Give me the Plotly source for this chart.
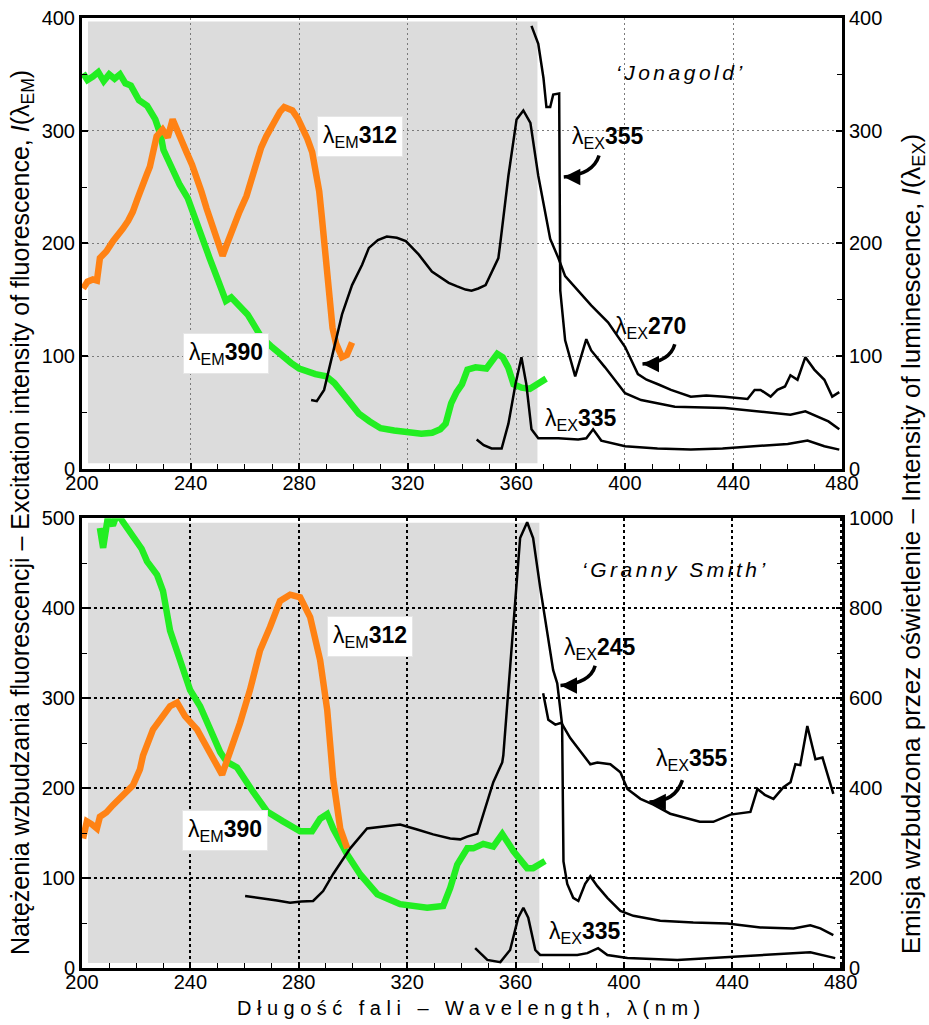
import plotly.graph_objects as go

# ---------------- 'Jonagold' (upper panel) ----------------
# excitation spectrum, emission monitored at 390 nm (left axis)
jona_em390_wl = [200.4, 202, 204, 206, 208, 210, 212, 214, 216, 218, 221, 224, 227, 229, 230, 233, 236,
                 239, 241, 243, 245, 247, 250, 253, 255, 258, 261, 264, 266, 270, 274, 277, 280, 283,
                 286, 290, 293, 295, 298, 302, 306, 310, 315, 320, 325, 329, 332, 334, 336, 338, 340,
                 342, 345, 349, 351, 353, 355, 357, 359, 362, 365, 368, 371]
jona_em390 = [351, 345, 348, 352, 344, 350, 346, 350, 342, 340, 327, 322, 310, 296, 283, 266, 252,
              240, 226, 213, 200, 187, 168, 149, 152, 144, 137, 125, 117, 108, 99, 94, 89, 86,
              84, 82, 76, 70, 60, 49, 42, 36, 34, 32, 31, 32, 35, 40, 58, 68, 75,
              88, 90, 89, 96, 102, 99, 90, 75, 72, 71, 76, 80]

# excitation spectrum, emission monitored at 312 nm (left axis)
jona_em312_wl = [200.4, 202, 204, 205.5, 206.6, 209, 211.4, 213, 215, 217, 218.7, 220.5, 222.4, 224,
                 225, 226.5, 227.5, 229.7, 231.6, 233.4, 234.9, 236.5, 238.5, 240.5, 242.2, 244,
                 245.9, 248, 249.6, 251.8, 253.5, 255.4, 258, 260.6, 262.5, 264.2, 266, 267.9, 270,
                 271.6, 273, 274.5, 276, 277.5, 279.5, 281.1, 283, 284.8, 286.2, 287.4, 288.3,
                 289.2, 290, 291, 292.3, 293.6, 295.8, 297.6, 299.5]
jona_em312 = [160, 166, 168, 167, 187, 193, 202, 206, 213, 220, 228, 240, 254, 262,
              268, 285, 295, 301, 294, 310, 301, 290, 281, 270, 260, 246,
              231, 215, 202, 189, 200, 213, 228, 242, 258, 272, 285, 295, 305,
              312, 317, 321, 320, 318, 311, 304, 293, 281, 265, 246, 225,
              202, 175, 143, 125, 111, 99, 101, 112]

# emission spectrum, excitation at 270 nm (right axis)
jona_ex270_wl = [284.4, 286.5, 289.2, 292.1, 295.8, 299.5, 303.2, 305.7, 309, 312.3, 316, 319.3, 324.1,
                 328.9, 332, 335.1, 338, 341.3, 343.5, 346, 348.7, 350.9, 353.4, 354.2, 357.1,
                 360.1, 362.6, 365.2, 368.1, 372.5, 375.5, 378, 381.7, 387.6, 393.8, 400.1, 404.8,
                 408, 412.2, 417, 424.3, 430, 436.8, 441, 445.2, 447.8, 450, 453.7, 456.2, 459,
                 461, 463.6, 466.5, 469.8, 473.5, 476.4, 479]
jona_ex270 = [61, 60, 70, 99, 137, 163, 181, 196, 203, 206, 205, 202, 190,
              175, 170, 165, 162, 159, 158, 160, 163, 175, 187, 202, 260,
              310, 318, 307, 260, 204, 187, 171, 161, 145, 130, 108, 84,
              79, 75, 70, 64, 65, 64, 63, 62, 70, 70, 64, 70, 73,
              83, 79, 99, 88, 79, 64, 68]

# emission spectrum, excitation at 355 nm (right axis)
jona_ex355_wl = [365.6, 368.1, 370, 371.1, 372.5, 373.6, 375.8, 376.2, 378, 381.7, 385.8, 387.6, 392.7,
                 400.1, 406, 418.4, 436.8, 448.9, 461, 466.5, 470.9, 475, 479]
jona_ex355 = [393, 377, 347, 321, 321, 332, 333, 158, 114, 82, 115, 105, 90,
              67, 61, 55, 54, 51, 48, 51, 46, 42, 35]

# emission spectrum, excitation at 335 nm (right axis)
jona_ex335_wl = [345.4, 348, 350.9, 354.6, 357.1, 359.7, 361.9, 363.7, 365.6, 368.1, 375.5, 382.8,
                 385.8, 388.3, 391.3, 400.1, 412, 424.3, 436, 448.9, 460, 467.3, 473.5, 479]
jona_ex335 = [26, 21, 18, 18, 40, 75, 99, 75, 35, 27, 27, 26,
              27, 35, 25, 20, 18, 17, 18, 20, 22, 25, 20, 17]

# ---------------- 'Granny Smith' (lower panel) ----------------
gs_em390_wl = [206.6, 207.8, 209.5, 211.4, 213, 214.5, 216.6, 218.5, 220.3, 222, 224, 227.7, 229.9,
               232.5, 236.2, 239.9, 243.6, 247.3, 251, 253.5, 257.2, 263.1, 268.3, 274.2, 280.5,
               284.9, 287.9, 290.5, 292.7, 297.9, 302.7, 309, 317.4, 327.4, 333.3, 335.9, 338.5,
               342.2, 344.4, 348.1, 351.8, 355.1, 359.2, 364.3, 366.5, 370.9]
gs_em390 = [489, 467, 500, 492, 505, 498, 489, 480, 472, 466, 452, 437, 419,
            375, 342, 309, 291, 265, 240, 229, 223, 196, 174, 163, 152,
            152, 166, 171, 155, 126, 104, 82, 71, 67, 69, 89, 115,
            133, 133, 138, 135, 149, 130, 111, 111, 119]

gs_em312_wl = [200.4, 201.8, 203.5, 205.5, 206.6, 209, 211.4, 215.1, 218.8, 221.4, 222.5, 226.2, 229.9,
               232.5, 235.1, 238, 242.5, 246.2, 249.1, 251.7, 254.7, 258.3, 262, 265.7, 269.4,
               273.1, 276.8, 280.5, 284.2, 287.9, 290.5, 292.3, 292.7, 295.3, 297.9]
gs_em312 = [144, 163, 160, 155, 168, 173, 181, 192, 203, 221, 236, 265, 280,
            291, 295, 280, 265, 243, 229, 215, 240, 272, 309, 353, 379,
            408, 415, 412, 390, 342, 287, 236, 210, 155, 133]

gs_ex245_wl = [260.2, 264, 268.3, 272, 276.8, 281, 285.3, 289, 292.7, 299, 305.2, 311.2, 317.4, 323.7,
               329.6, 335.9, 339.6, 342.2, 345.9, 351.8, 355.1, 355.5, 358, 359.9, 361.7, 364.3,
               366.5, 369.1, 371.7, 373.9, 375.4, 376.5, 377.2, 377.7, 379.1, 381.3, 383.2, 385.7,
               387.6, 390.2, 393.9, 398.7, 403.5, 413.4, 425.6, 438.2, 450.4, 462.6, 468.8, 472.5,
               477.3]
gs_ex245 = [160, 157, 154, 150, 145, 148, 149, 171, 209, 266, 310, 314, 319, 308,
            297, 288, 286, 292, 299, 413, 457, 473, 662, 809, 956, 991,
            956, 846, 749, 662, 633, 567, 541, 237, 187, 156, 149, 187,
            204, 182, 156, 127, 116, 105, 101, 99, 90, 88, 95, 88,
            73]

gs_ex355_wl = [370.2, 372.1, 374.7, 376.9, 380.2, 383.9, 387.6, 390.2, 395, 398.7, 401.3, 406.1, 410.9,
               417.1, 423.4, 428, 433, 439.3, 446.7, 449.3, 452, 455.2, 458.9, 461.5, 463.3, 465.1,
               467.7, 470.7, 473.3, 475.1, 477.3]
gs_ex355 = [611, 552, 541, 545, 511, 481, 453, 457, 453, 435, 398, 376, 363,
            343, 332, 325, 325, 341, 347, 398, 385, 376, 402, 413, 453, 451,
            538, 464, 468, 429, 387]

gs_ex335_wl = [345.1, 349.6, 354.4, 358, 361, 362.9, 364.7, 367.3, 369.1, 382.8, 386.5, 390.5, 393.9,
               401.3, 419.7, 438.2, 462.6, 468.8, 478]
gs_ex335 = [44, 18, 13, 40, 112, 134, 112, 40, 29, 29, 33, 44, 29,
            22, 18, 24, 33, 35, 22]

GREEN = "#22ee22"
ORANGE = "#ff8214"
FONT = "Liberation Sans, Arial, sans-serif"

fig = go.Figure()


def add_line(x, y, xa, ya, color, width):
    fig.add_trace(go.Scatter(x=x, y=y, xaxis=xa, yaxis=ya, mode="lines",
                             line=dict(color=color, width=width), hoverinfo="skip",
                             showlegend=False))


# upper panel
add_line(jona_em390_wl, jona_em390, "x2", "y3", GREEN, 6.5)
add_line(jona_em312_wl, jona_em312, "x2", "y3", ORANGE, 6.5)
add_line(jona_ex270_wl, jona_ex270, "x2", "y4", "black", 2.5)
add_line(jona_ex355_wl, jona_ex355, "x2", "y4", "black", 2.5)
add_line(jona_ex335_wl, jona_ex335, "x2", "y4", "black", 2.5)

# lower panel
add_line(gs_em390_wl, gs_em390, "x", "y", GREEN, 6.5)
add_line(gs_em312_wl, gs_em312, "x", "y", ORANGE, 6.5)
add_line(gs_ex245_wl, gs_ex245, "x", "y2", "black", 2.5)
add_line(gs_ex355_wl, gs_ex355, "x", "y2", "black", 2.5)
add_line(gs_ex335_wl, gs_ex335, "x", "y2", "black", 2.5)

tickfont = dict(family=FONT, size=20, color="black")


def xaxis_style(rng, anchor, gridcolor, griddash, gridwidth):
    return dict(domain=[0, 1], anchor=anchor, range=rng, tick0=200, dtick=40,
                ticks="inside", ticklen=6, tickwidth=1.5, tickcolor="black",
                showline=True, linewidth=3, linecolor="black", mirror=True,
                showgrid=True, gridcolor=gridcolor, griddash=griddash, gridwidth=gridwidth,
                zeroline=False, tickfont=tickfont, ticklabelstandoff=-6,
                minor=dict(dtick=10, ticks="inside", ticklen=5, tickcolor="black",
                           tickwidth=1, showgrid=False))


def yaxis_style(domain, rng, dtick, anchor, gridcolor, griddash, gridwidth):
    return dict(domain=domain, anchor=anchor, range=rng, dtick=dtick, tick0=0,
                ticks="inside", ticklen=6, tickwidth=1.5, tickcolor="black",
                showline=True, linewidth=3, linecolor="black",
                showgrid=True, gridcolor=gridcolor, griddash=griddash, gridwidth=gridwidth,
                zeroline=False, tickfont=tickfont,
                minor=dict(dtick=dtick / 2, ticks="inside", ticklen=5, tickcolor="black",
                           tickwidth=1, showgrid=False))


def right_style(rng, dtick, overlay, anchor):
    return dict(overlaying=overlay, side="right", anchor=anchor, range=rng, dtick=dtick, tick0=0,
                ticks="inside", ticklen=6, tickwidth=1.5, tickcolor="black",
                showline=True, linewidth=3, linecolor="black", showgrid=False,
                zeroline=False, tickfont=tickfont,
                minor=dict(dtick=dtick / 2, ticks="inside", ticklen=5, tickcolor="black",
                           tickwidth=1, showgrid=False))


TOP_DOM = [0.5255, 1.0]
BOT_DOM = [0.0, 0.4735]

fig.update_layout(
    width=929, height=1025,
    margin=dict(l=82, r=87, t=7, b=57),
    paper_bgcolor="white", plot_bgcolor="white",
    showlegend=False,
    xaxis=xaxis_style([200, 480.5], "y", "black", "3px,3px", 1.6),
    yaxis=yaxis_style(BOT_DOM, [0, 500], 100, "x", "black", "3px,3px", 1.6),
    yaxis2=right_style([0, 1000], 200, "y", "x"),
    xaxis2=xaxis_style([200, 480], "y3", "#7a7a7a", "2px,3px", 1),
    yaxis3=yaxis_style(TOP_DOM, [0, 400], 100, "x2", "#7a7a7a", "2px,3px", 1),
    yaxis4=right_style([0, 400], 100, "y3", "x2"),
)

# grey band marking the excitation region
fig.add_shape(type="rect", xref="x2", yref="y3", x0=202.2, x1=367.8, y0=5, y1=397,
              fillcolor="#dcdcdc", line=dict(width=0), layer="below")
fig.add_shape(type="rect", xref="x", yref="y", x0=202.2, x1=368.8, y0=5.5, y1=495,
              fillcolor="#dcdcdc", line=dict(width=0), layer="below")

lab_font = dict(family=FONT, size=23, color="black")


def boxed(text, x, y, xr, yr):
    fig.add_annotation(text=text, x=x, y=y, xref=xr, yref=yr, showarrow=False,
                       font=lab_font, bgcolor="white", bordercolor="#e6e6e6", borderwidth=1,
                       borderpad=5)


def plain(text, x, y, xr, yr):
    fig.add_annotation(text=text, x=x, y=y, xref=xr, yref=yr, showarrow=False, font=lab_font)


def curved_arrow(x0, y0, cx, cy, x1, y1, xr, yr):
    fig.add_shape(type="path", xref=xr, yref=yr,
                  path=f"M {x0},{y0} Q {cx},{cy} {x1},{y1}",
                  line=dict(color="black", width=3.5))
    fig.add_annotation(x=x1, y=y1, xref=xr, yref=yr, text="", showarrow=True,
                       ax=12, ay=0, arrowhead=2, arrowsize=1.1, arrowwidth=3,
                       arrowcolor="black", standoff=0)


# upper panel labels
boxed("λ<sub>EM</sub><b>312</b>", 302.4, 295, "x2", "y3")
boxed("λ<sub>EM</sub><b>390</b>", 253.2, 102, "x2", "y3")
plain("λ<sub>EX</sub><b>355</b>", 393.8, 294, "x2", "y3")
plain("λ<sub>EX</sub><b>270</b>", 409.3, 125, "x2", "y3")
plain("λ<sub>EX</sub><b>335</b>", 383.9, 44, "x2", "y3")
curved_arrow(390.5, 278, 388.3, 261, 377.5, 259, "x2", "y3")
curved_arrow(418.4, 110.5, 416.6, 94.7, 406.5, 93, "x2", "y3")
fig.add_annotation(text="<i><span style='letter-spacing:3.5px'>‘Jonagold’</span></i>",
                   x=420.6, y=352, xref="x2", yref="y3", showarrow=False,
                   font=dict(family=FONT, size=21, color="black"))

# lower panel labels
boxed("λ<sub>EM</sub><b>312</b>", 306.4, 368, "x", "y")
boxed("λ<sub>EM</sub><b>390</b>", 252.8, 153, "x", "y")
plain("λ<sub>EX</sub><b>245</b>", 391.3, 355, "x", "y")
plain("λ<sub>EX</sub><b>355</b>", 425.3, 232, "x", "y")
plain("λ<sub>EX</sub><b>335</b>", 385.7, 39.6, "x", "y")
curved_arrow(389.4, 336, 387.6, 316.5, 376.6, 314, "x", "y")
curved_arrow(421.6, 208.8, 419, 184.6, 409.4, 184.6, "x", "y")
fig.add_annotation(text="<i><span style='letter-spacing:3.5px'>‘Granny Smith’</span></i>",
                   x=419, y=443, xref="x", yref="y", showarrow=False,
                   font=dict(family=FONT, size=21, color="black"))

# axis titles
fig.add_annotation(
    text="Natężenia wzbudzania fluorescencji – Excitation intensity of fluorescence, "
         "<i>I</i>(λ<sub>EM</sub>)",
    x=-0.079, y=0.48, xref="paper", yref="paper", xanchor="center", yanchor="middle",
    textangle=-90, showarrow=False, font=dict(family=FONT, size=25, color="black"))
fig.add_annotation(
    text="Emisja wzbudzona przez oświetlenie – Intensity of luminescence, "
         "<i>I</i>(λ<sub>EX</sub>)",
    x=1.092, y=0.447, xref="paper", yref="paper", xanchor="center", yanchor="middle",
    textangle=-90, showarrow=False, font=dict(family=FONT, size=26, color="black"))
fig.add_annotation(
    text="<span style='letter-spacing:5.5px'>Długość fali – Wavelength, λ(nm)</span>",
    x=0.512, y=-0.0416, xref="paper", yref="paper", xanchor="center", yanchor="middle",
    showarrow=False, font=dict(family=FONT, size=20, color="black"))

fig.write_html("out.html")
